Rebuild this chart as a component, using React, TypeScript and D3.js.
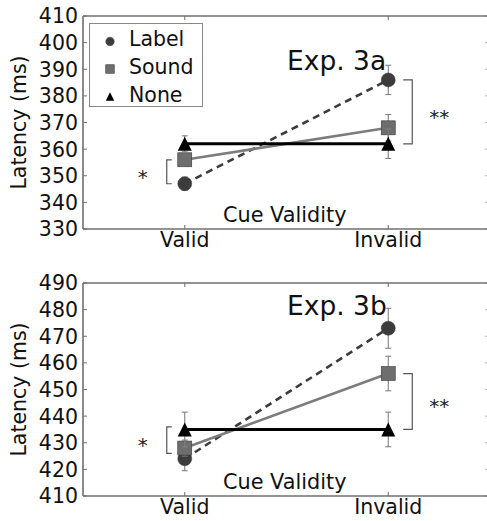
import React from 'react';
import * as d3 from 'd3';

const categories = ['Valid', 'Invalid'];
const seriesNames = ['Label', 'Sound', 'None'];

const exp3aLabel = [347, 386];
const exp3aSound = [356, 368];
const exp3aNone = [362, 362];
const exp3aLabelErr = [2.5, 5.5];
const exp3aSoundErr = [2, 5];
const exp3aNoneErr = [3, 5.5];
const exp3aTicks = [330, 340, 350, 360, 370, 380, 390, 400, 410];
const exp3aValidBracket = [347, 356];
const exp3aInvalidBracket = [362, 386];

const exp3bLabel = [424, 473];
const exp3bSound = [428, 456];
const exp3bNone = [435, 435];
const exp3bLabelErr = [4.5, 7.5];
const exp3bSoundErr = [3, 6.5];
const exp3bNoneErr = [6.5, 6.5];
const exp3bTicks = [410, 420, 430, 440, 450, 460, 470, 480, 490];
const exp3bValidBracket = [426, 436];
const exp3bInvalidBracket = [435, 456];

const validSig = '*';
const invalidSig = '**';

const FONT = 'DejaVu Sans, sans-serif';
const colors: Record<string, string> = { Label: '#3c3c3c', Sound: '#6e6e6e', None: '#000000' };
const lineColors: Record<string, string> = { Label: '#3c3c3c', Sound: '#7c7c7c', None: '#000000' };
const dashes: Record<string, string | undefined> = { Label: '7,5', Sound: undefined, None: undefined };

function Marker({ kind, x, y, s, color }: { kind: string; x: number; y: number; s: number; color: string }) {
  if (kind === 'Label') return <circle cx={x} cy={y} r={s / 2} fill={color} stroke={color} strokeWidth={0.5} />;
  if (kind === 'Sound')
    return <rect x={x - s / 2} y={y - s / 2} width={s} height={s} fill={color} stroke="#3a3a3a" strokeWidth={0.6} />;
  const h = s / 2;
  return <path d={`M${x},${y - h}L${x + h},${y + h}L${x - h},${y + h}Z`} fill={color} />;
}

interface PanelProps {
  top: number;
  domain: [number, number];
  ticks: number[];
  values: Record<string, number[]>;
  errs: Record<string, number[]>;
  validBracket: number[];
  invalidBracket: number[];
  expLabel: string;
  expBaseline: number;
  legend: boolean;
}

function Panel(p: PanelProps) {
  const left = 83;
  const right = 490;
  const height = 213;
  const y = d3.scaleLinear().domain(p.domain).range([p.top + height, p.top]);
  const x = d3.scalePoint<string>().domain(categories).range([left, right]).padding(0.5);
  const bottom = p.top + height;
  const spine = '#6f6f6f';
  const line = d3
    .line<number>()
    .x((_, i) => x(categories[i]) as number)
    .y((d) => y(d));

  const xv = x('Valid') as number;
  const xi = x('Invalid') as number;

  return (
    <g fontFamily={FONT}>
      {p.ticks.map((t) => (
        <g key={t}>
          <line x1={left} x2={left + 4} y1={y(t)} y2={y(t)} stroke={spine} strokeWidth={1} />
          <line x1={right - 5} x2={right} y1={y(t)} y2={y(t)} stroke="#aaa" strokeWidth={1} />
          <text x={left - 5} y={y(t)} dy="0.36em" textAnchor="end" fontSize={20.5} fill="#111">
            {t}
          </text>
        </g>
      ))}
      {categories.map((c) => (
        <g key={c}>
          <line x1={x(c)} x2={x(c)} y1={bottom} y2={bottom - 4} stroke={spine} />
          <line x1={x(c)} x2={x(c)} y1={p.top} y2={p.top + 4} stroke={spine} />
          <text x={x(c)} y={bottom + 18} textAnchor="middle" fontSize={20.5} fill="#111">
            {c}
          </text>
        </g>
      ))}
      <text
        transform={`translate(26,${(p.top + bottom) / 2}) rotate(-90)`}
        textAnchor="middle"
        fontSize={20.5}
        fill="#111"
      >
        Latency (ms)
      </text>
      <text x={223} y={bottom - 7} fontSize={20.8} fill="#111">
        Cue Validity
      </text>
      <text x={287} y={p.expBaseline} fontSize={26.5} fill="#111">
        {p.expLabel}
      </text>

      <path
        d={`M${xv - 13},${y(p.validBracket[0])}H${xv - 18}V${y(p.validBracket[1])}H${xv - 13}`}
        fill="none"
        stroke="#555"
        strokeWidth={1.2}
      />
      <text x={xv - 42} y={(y(p.validBracket[0]) + y(p.validBracket[1])) / 2 + 12} textAnchor="middle" fontSize={20} fill="#222">
        {validSig}
      </text>
      <path
        d={`M${xi + 15},${y(p.invalidBracket[0])}H${xi + 24}V${y(p.invalidBracket[1])}H${xi + 15}`}
        fill="none"
        stroke="#555"
        strokeWidth={1.2}
      />
      <text x={xi + 51} y={(y(p.invalidBracket[0]) + y(p.invalidBracket[1])) / 2 + 12} textAnchor="middle" fontSize={20} fill="#222">
        {invalidSig}
      </text>

      {seriesNames.map((s) => (
        <g key={s}>
          <path
            d={line(p.values[s]) || ''}
            fill="none"
            stroke={lineColors[s]}
            strokeWidth={s === 'None' ? 3 : 2.6}
            strokeDasharray={dashes[s]}
          />
          {p.values[s].map((v, i) => {
            const cx = x(categories[i]) as number;
            const e = p.errs[s][i];
            return (
              <g key={i} stroke="#808080" strokeWidth={1.1}>
                <line x1={cx} x2={cx} y1={y(v - e)} y2={y(v + e)} />
                <line x1={cx - 3} x2={cx + 3} y1={y(v - e)} y2={y(v - e)} />
                <line x1={cx - 3} x2={cx + 3} y1={y(v + e)} y2={y(v + e)} />
              </g>
            );
          })}
          {p.values[s].map((v, i) => (
            <Marker key={'m' + i} kind={s} x={x(categories[i]) as number} y={y(v)} s={14} color={colors[s]} />
          ))}
        </g>
      ))}

      <line x1={left} x2={left} y1={p.top} y2={bottom} stroke={spine} strokeWidth={1.6} />
      <line x1={left} x2={right} y1={p.top} y2={p.top} stroke={spine} strokeWidth={1.6} />
      <line x1={left} x2={right} y1={bottom} y2={bottom} stroke={spine} strokeWidth={1.6} />
      <line x1={right} x2={right} y1={p.top} y2={bottom} stroke={spine} strokeWidth={1.6} />

      {p.legend && (
        <g>
          <rect x={89.5} y={23.5} width={113} height={83} fill="#fff" stroke="#888" strokeWidth={1} />
          {seriesNames.map((s, i) => (
            <g key={s}>
              <Marker kind={s} x={110} y={41.5 + i * 27.5} s={8.5} color={colors[s]} />
              <text x={129} y={45.5 + i * 28} fontSize={20.5} fill="#111">
                {s}
              </text>
            </g>
          ))}
        </g>
      )}
    </g>
  );
}

export default function App() {
  return (
    <svg
      width={487}
      height={521}
      style={{ position: 'absolute', left: 0, top: 0, background: '#fff' }}
    >
      <rect width={487} height={521} fill="#fff" />
      <Panel
        top={16}
        domain={[330, 410]}
        ticks={exp3aTicks}
        values={{ Label: exp3aLabel, Sound: exp3aSound, None: exp3aNone }}
        errs={{ Label: exp3aLabelErr, Sound: exp3aSoundErr, None: exp3aNoneErr }}
        validBracket={exp3aValidBracket}
        invalidBracket={exp3aInvalidBracket}
        expLabel="Exp. 3a"
        expBaseline={70}
        legend={true}
      />
      <Panel
        top={283}
        domain={[410, 490]}
        ticks={exp3bTicks}
        values={{ Label: exp3bLabel, Sound: exp3bSound, None: exp3bNone }}
        errs={{ Label: exp3bLabelErr, Sound: exp3bSoundErr, None: exp3bNoneErr }}
        validBracket={exp3bValidBracket}
        invalidBracket={exp3bInvalidBracket}
        expLabel="Exp. 3b"
        expBaseline={315}
        legend={false}
      />
    </svg>
  );
}
